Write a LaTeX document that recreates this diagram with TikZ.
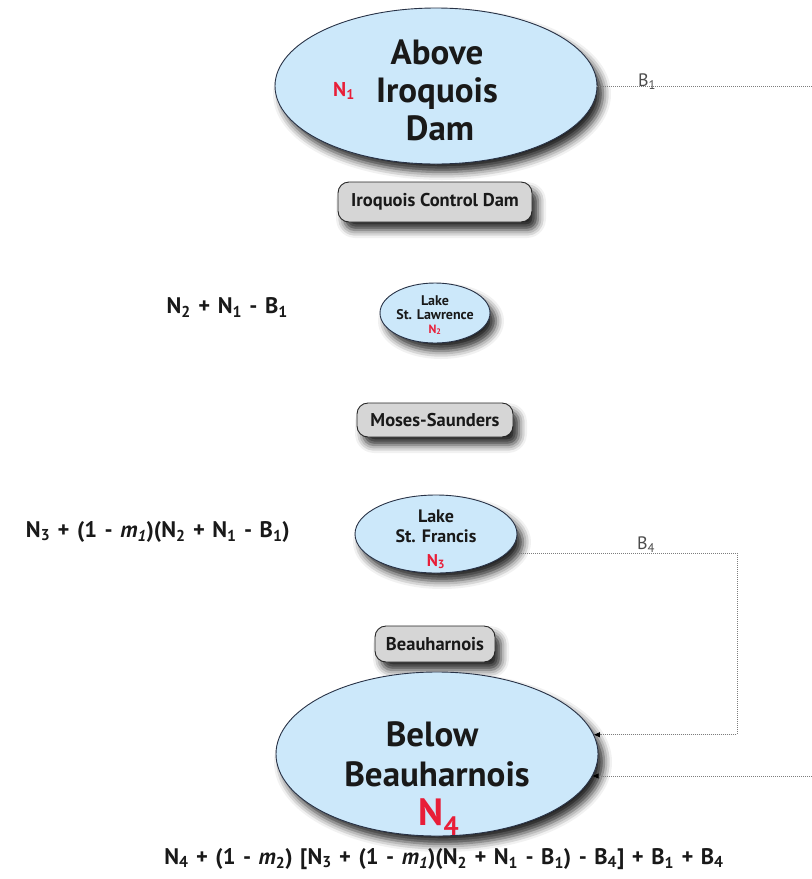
\documentclass[tikz,border=0pt]{standalone}
\usepackage{fontspec}
\setmainfont{PT Sans}
\usetikzlibrary{shapes.geometric,shadows.blur,arrows.meta}
\definecolor{lakefill}{RGB}{204,232,250}
\definecolor{lakeline}{RGB}{40,50,70}
\definecolor{damfill}{RGB}{214,214,214}
\definecolor{nred}{RGB}{232,30,56}
\definecolor{flowgray}{RGB}{125,125,125}
\definecolor{txt}{RGB}{25,25,25}
\newcommand\subs[1]{\textsubscript{#1}}
\newcommand\fs[1]{\fontsize{#1}{#1}\selectfont}
\newcommand\formfont{\bfseries\fontsize{22.5}{22.5}\selectfont\spaceskip=7.5pt plus 1pt\relax}
\begin{document}
\begin{tikzpicture}[x=1pt,y=-1pt,
  shad/.style={blur shadow={shadow xshift=6pt,shadow yshift=-8pt,shadow blur radius=8pt,shadow opacity=85}},
  lake/.style={ellipse,draw=lakeline,line width=0.9pt,fill=lakefill,inner sep=0pt,shad},
  dam/.style={rectangle,rounded corners=11pt,draw=black!85,line width=0.9pt,fill=damfill,inner sep=0pt,font=\bfseries\fs{18.5},text=txt,shad},
  big/.style={font=\bfseries\fs{35},text=txt,anchor=base,inner sep=0pt},
  mid/.style={font=\bfseries\fs{18},text=txt,anchor=base,inner sep=0pt},
  sml/.style={font=\bfseries\fs{14},text=txt,anchor=base,inner sep=0pt},
  redn/.style={text=nred,font=\bfseries,anchor=base,inner sep=0pt},
  formula/.style={font=\formfont,text=txt,anchor=base,inner sep=0pt},
  lbl/.style={font=\fs{18},text=black!70,anchor=base,inner sep=0pt},
  flow/.style={draw=flowgray,line width=0.9pt,dash pattern=on 1pt off 1pt},
  tip/.style={-{Triangle[length=6pt,width=5pt,fill=black,color=black]}}
]
\useasboundingbox (0,0) rectangle (812,879);

% Above Iroquois Dam
\node[lake,minimum width=322pt,minimum height=156pt] (abv) at (436,86) {};
\node[big] (abv1) at (437,64) {Above};
\node[big] (abv2) at (437,102) {Iroquois};
\node[big] (abv3) at (440,140) {Dam};
\node[redn,font=\bfseries\fs{20}] (n1) at (344,96) {N\subs{1}};

% Iroquois Control Dam
\node[dam,minimum width=194pt,minimum height=40pt] (icd) at (435,202) {Iroquois Control Dam};

% Lake St. Lawrence
\node[lake,minimum width=110pt,minimum height=60pt] (lsl) at (435,313) {};
\node[sml] (lsl1) at (435,305) {Lake};
\node[sml] (lsl2) at (435,319) {St. Lawrence};
\node[redn,font=\bfseries\fs{12}] (n2) at (435,333) {N\subs{2}};
\node[formula,anchor=base east] (f1) at (288,313) {N\subs{2} + N\subs{1} - B\subs{1}};

% Moses-Saunders
\node[dam,minimum width=156pt,minimum height=34pt] (ms) at (435,420) {Moses-Saunders};

% Lake St. Francis
\node[lake,minimum width=162pt,minimum height=78pt] (lsf) at (436,534) {};
\node[mid] (lsf1) at (436,522) {Lake};
\node[mid] (lsf2) at (436,542) {St. Francis};
\node[redn,font=\bfseries\fs{17}] (n3) at (436,566) {N\subs{3}};
\node[formula,anchor=base east] (f2) at (290,537) {N\subs{3} + (1 - \textit{m}\subs{\textit{1}})(N\subs{2} + N\subs{1} - B\subs{1})};

% Beauharnois
\node[dam,minimum width=120pt,minimum height=36pt] (bh) at (435,644) {Beauharnois};

% Below Beauharnois
\node[lake,minimum width=322pt,minimum height=164pt] (bel) at (437,754) {};
\node[big] (bel1) at (432,746) {Below};
\node[big] (bel2) at (437,786) {Beauharnois};
\node[redn,font=\bfseries\fs{38}] (n4) at (439,825) {N\subs{4}};
\node[formula] (f3) at (444,864) {N\subs{4} + (1 - \textit{m}\subs{2}) [N\subs{3} + (1 - \textit{m}\subs{\textit{1}})(N\subs{2} + N\subs{1} - B\subs{1}) - B\subs{4}] + B\subs{1} + B\subs{4}};

% flows
\coordinate (b1e) at (812,86);
\coordinate (b1r) at (812,776);
\coordinate (b4c) at (737,553);
\draw[flow] (abv.east) -- (b1e);
\node[lbl] (lb1) at (647,86) {B\subs{1}};
\draw[flow,tip] (lsf.east |- b4c) -- (b4c) |- (bel.7);
\node[lbl] (lb4) at (646,549) {B\subs{4}};
\draw[flow,tip] (b1r) -- (b1r -| bel.-8);
\end{tikzpicture}
\end{document}
